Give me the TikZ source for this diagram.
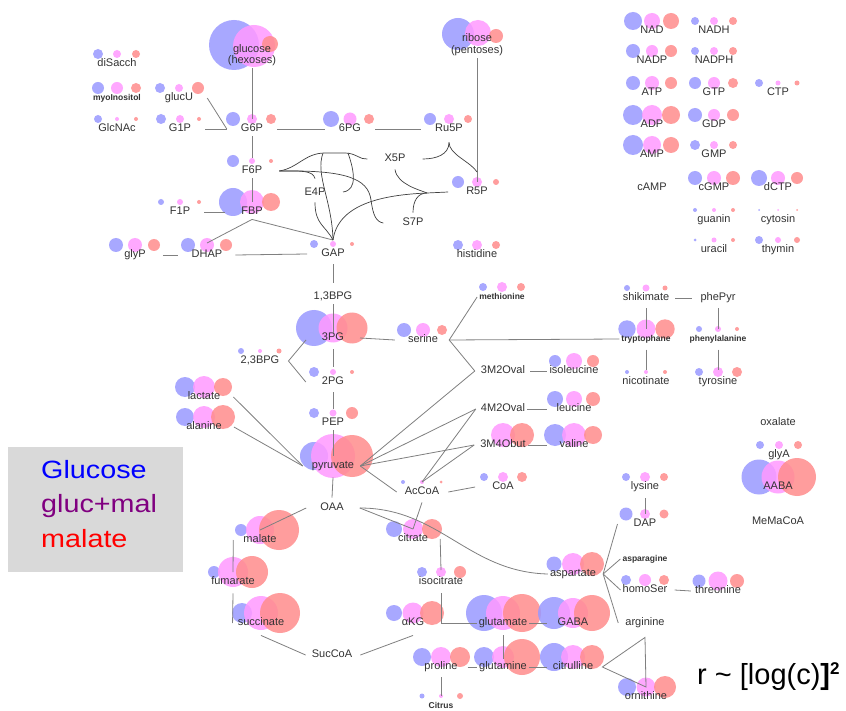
\documentclass[tikz,border=0pt]{standalone}
\usepackage{fontspec}
\setmainfont{Liberation Sans}
\newfontfamily\legfont[FakeStretch=1.15]{Liberation Sans}
\usetikzlibrary{calc}
\pgfdeclarelayer{bg}
\pgfsetlayers{bg,main}
\definecolor{cb}{HTML}{9999FF}
\definecolor{cp}{HTML}{FF99FF}
\definecolor{cr}{HTML}{FF8C8C}
\definecolor{lc}{HTML}{808080}
\definecolor{tc}{HTML}{333333}
\definecolor{legendgray}{HTML}{D9D9D9}
\definecolor{legpurple}{HTML}{800080}
\tikzset{
 lab/.style={text=tc, font=\fontsize{11}{13}\selectfont, inner xsep=2pt, inner ysep=2pt, text height=8pt, text depth=2.5pt},
 sm/.style={font=\bfseries\fontsize{8.5}{10}\selectfont, text height=7pt, text depth=2pt},
 ln/.style={draw=lc, line width=0.8pt},
 tg/.style={draw=black!75, line width=0.7pt},
 cbf/.style={fill=cb, opacity=.85},
 cpf/.style={fill=cp, opacity=.85},
 crf/.style={fill=cr, opacity=.85},
 legtext/.style={anchor=base west, inner sep=0pt, font=\legfont\fontsize{25}{28}\selectfont},
}
\newcommand\met[8][]{%
 \begin{pgfonlayer}{bg}%
 \ifdim#6pt>0pt \fill[cbf] (#3-19,#4-10) circle[radius=#6pt];\fi
 \ifdim#7pt>0pt \fill[cpf] (#3,#4-10) circle[radius=#7pt];\fi
 \ifdim#8pt>0pt \fill[crf] (#3+19,#4-10) circle[radius=#8pt];\fi
 \end{pgfonlayer}%
 \coordinate (#2c) at (#3,#4-10);
 \node[lab,#1] (#2) at (#3,#4) {#5};}
\begin{document}
\begin{tikzpicture}[x=1pt,y=-1pt]
\useasboundingbox (0,0) rectangle (846,711);
\begin{pgfonlayer}{bg}
\fill[white] (0,0) rectangle (846,711);
\fill[cbf] (234,45) circle[radius=25pt];
\fill[cpf] (254,46) circle[radius=21pt];
\fill[crf] (270,44) circle[radius=8pt];
\fill[cbf] (458,34) circle[radius=16pt];
\fill[cpf] (478,33) circle[radius=13pt];
\fill[crf] (496,36) circle[radius=7pt];
\end{pgfonlayer}
\node[lab] (glucose) at (252,50) {glucose};
\node[lab] (hexoses) at (252,61) {(hexoses)};
\node[lab] (ribose) at (477,39) {ribose};
\node[lab] (pentoses) at (477,51) {(pentoses)};
% ---- metabolites
\met{diSacch}{117}{64}{diSacch}{5}{4}{4}
\met[sm]{myoIno}{117}{98}{myoInositol}{6}{6}{5}
\met{GlcNAc}{117}{129}{GlcNAc}{4}{2}{2}
\met{glucU}{179}{98}{glucU}{5}{4}{6}
\met{G1P}{180}{129}{G1P}{5}{4}{2}
\met{G6P}{252}{129}{G6P}{7}{5}{5}
\met{PGsix}{350}{129}{6PG}{8}{6.5}{5}
\met{Ru5P}{449}{129}{Ru5P}{6}{5}{4}
\met{X5P}{395}{159}{X5P}{0}{0}{0}
\met{F6P}{252}{171}{F6P}{6}{3}{2}
\met{E4P}{315}{193}{E4P}{0}{0}{0}
\met{S7P}{413}{223}{S7P}{0}{0}{0}
\met{R5P}{477}{192}{R5P}{6}{5}{3}
\met{histidine}{477}{255}{histidine}{5}{5}{4}
\met{GAP}{333}{254}{GAP}{4}{3}{2}
\met{BPGot}{333}{297}{1,3BPG}{0}{0}{0}
\met{F1P}{180}{212}{F1P}{3}{3}{2}
\met{FBP}{252}{212}{FBP}{14}{12}{9}
\met{glyP}{135}{255}{glyP}{7}{7}{6}
\met{DHAP}{207}{255}{DHAP}{7}{7}{6}
\met{PGthree}{333}{338}{3PG}{18}{14.5}{15.5}
\met{BPGtt}{260}{361}{2,3BPG}{3}{2}{2.5}
\met{PGtwo}{333}{382}{2PG}{5}{3}{2}
\met{PEP}{333}{423}{PEP}{5}{3.5}{6}
\met{lactate}{204}{397}{lactate}{10}{11}{9}
\met{alanine}{204}{427}{alanine}{9}{11}{12}
\met{pyruvate}{333}{466}{pyruvate}{14}{22}{21}
\met{serine}{423}{340}{serine}{7}{7}{5}
\met[sm]{methionine}{502}{297}{methionine}{4}{5}{4}
\met{MOvalA}{503}{371}{3M2Oval}{0}{0}{0}
\met{isoleucine}{574}{371}{isoleucine}{6}{8}{6}
\met{MOvalB}{503}{409}{4M2Oval}{0}{0}{0}
\met{leucine}{574}{409}{leucine}{8}{8}{7}
\met{MObut}{503}{445}{3M4Obut}{0}{12}{12}
\met{valine}{574}{445}{valine}{11}{12}{9}
\met{shikimate}{646}{298}{shikimate}{3}{3.5}{2.5}
\met{phePyr}{718}{298}{phePyr}{0}{0}{0}
\met[sm]{tryptophane}{646}{339}{tryptophane}{8.7}{9.5}{9.7}
\met[sm]{phenylalanine}{718}{339}{phenylalanine}{3}{3}{2}
\met{nicotinate}{646}{382}{nicotinate}{2}{2}{2}
\met{tyrosine}{718}{382}{tyrosine}{4}{5}{5}
\met{AcCoA}{422}{492}{AcCoA}{2}{2}{1.5}
\met{CoA}{503}{487}{CoA}{4}{5}{5}
\met{OAA}{332}{508}{OAA}{0}{0}{0}
\met{malate}{260}{540}{malate}{6}{14}{20}
\met{fumarate}{233}{582}{fumarate}{6}{15}{16}
\met{succinate}{261}{623}{succinate}{10}{17}{20}
\met{SucCoA}{332}{655}{SucCoA}{0}{0}{0}
\met{citrate}{413}{539}{citrate}{8}{10}{10}
\met{isocitrate}{441}{582}{isocitrate}{5}{5}{6}
\met{aKG}{413}{623}{αKG}{8}{10.5}{12}
\met{glutamate}{503}{623}{glutamate}{18}{17}{19}
\met{GABA}{573}{623}{GABA}{16}{15}{18}
\met{proline}{441}{667}{proline}{9}{10}{10}
\met{glutamine}{503}{667}{glutamine}{10}{11}{18}
\met{citrulline}{573}{667}{citrulline}{14}{12}{12}
\met[sm]{bottom}{441}{706}{Citrus}{2.5}{2}{3}
\met{aspartate}{573}{574}{aspartate}{7.5}{11}{12}
\met{lysine}{645}{487}{lysine}{4}{5}{4}
\met{DAP}{645}{524}{DAP}{6.5}{5}{4.5}
\met[sm]{asparagine}{645}{559}{asparagine}{0}{0}{0}
\met{homoSer}{645}{590}{homoSer}{5}{6}{5}
\met{threonine}{718}{591}{threonine}{6.5}{9.5}{7}
\met{arginine}{645}{623}{arginine}{0}{0}{0}
\met{ornithine}{646}{697}{ornithine}{9}{9.5}{11}
\met{oxalate}{778}{423}{oxalate}{0}{0}{0}
\met{glyA}{779}{455}{glyA}{4}{4}{4}
\met{AABA}{778}{487}{AABA}{17.5}{16.5}{19}
\met{MeMaCoA}{778}{522}{MeMaCoA}{0}{0}{0}
% nucleotides
\met{NAD}{652}{31}{NAD}{9}{8}{8}
\met{NADH}{714}{31}{NADH}{4}{4}{4}
\met{NADP}{652}{61}{NADP}{7}{6}{6}
\met{NADPH}{714}{61}{NADPH}{4}{4}{4}
\met{ATP}{652}{93}{ATP}{7}{7}{6}
\met{GTP}{714}{93}{GTP}{6}{6}{5}
\met{CTP}{778}{93}{CTP}{4}{2.5}{2.5}
\met{ADP}{652}{125}{ADP}{10}{10}{9}
\met{GDP}{714}{125}{GDP}{7}{6}{6}
\met{AMP}{652}{155}{AMP}{10}{9}{8}
\met{GMP}{714}{155}{GMP}{5}{4}{4}
\met{cAMP}{652}{188}{cAMP}{0}{0}{0}
\met{cGMP}{714}{188}{cGMP}{7}{7}{7}
\met{dCTP}{778}{188}{dCTP}{8}{7}{6}
\met{guanin}{714}{220}{guanin}{2}{2}{2}
\met{cytosin}{778}{220}{cytosin}{1}{1}{1}
\met{uracil}{714}{250}{uracil}{1.5}{2.5}{2}
\met{thymin}{778}{250}{thymin}{4}{3}{3}
% ---- connectors
\draw[ln] (hexoses.south) -- (G6Pc);
\draw[ln] ([xshift=12]G1P.east) -- ([xshift=-12]G6P.west);
\draw[ln] ([xshift=12]glucU.east) -- ([xshift=-12]G6P.west);
\draw[ln] ([xshift=12]G6P.east) -- ([xshift=-12]PGsix.west);
\draw[ln] ([xshift=12]PGsix.east) -- ([xshift=-12]Ru5P.west);
\draw[ln] (pentoses.south) -- (R5Pc);
\draw[tg] ([yshift=-6]Ru5P.south) .. controls +(0,12) and +(14,0) .. ([xshift=15]X5P.east);
\draw[tg] ([yshift=-6]Ru5P.south) .. controls +(0,12) and +(-6,-10) .. ([yshift=10]R5Pc);
\draw[ln] (G6P.south) -- ([yshift=3]F6Pc);
\draw[ln] (F6P.south) -- (FBPc);
\draw[ln] ([xshift=12]F1P.east) -- ([xshift=-14]FBP.west);
\draw[ln] (FBP.south) -- ([yshift=2]DHAPc);
\draw[ln] (FBP.south) -- ([yshift=4]GAPc);
\draw[ln] ([xshift=15]glyP.east) -- ([xshift=-12]DHAP.west);
\draw[ln] ([xshift=11]DHAP.east) -- ([xshift=-12]GAP.west);
\draw[ln] ([yshift=-3]GAP.south) -- ([yshift=7]BPGot.north);
\draw[ln] (BPGot.south) -- ([yshift=-5]PGthreec);
\draw[ln] ([yshift=-4]PGthree.south) -- ([yshift=5]PGtwoc);
\coordinate (v23) at ([xshift=7]BPGtt.east);
\draw[ln] ([xshift=-27,yshift=-12]PGthreec) -- (v23) -- ([xshift=-14]PGtwo.west);
\draw[ln] ([yshift=-3]PGtwo.south) -- ([yshift=4]PEPc);
\draw[ln] (PEP.south) -- (pyruvatec);
\draw[ln] ([yshift=-4]pyruvate.south) -- ([yshift=3]OAA.north);
\draw[ln] ([xshift=11]lactate.east) -- ([xshift=-7]pyruvate.west);
\draw[ln] ([xshift=10]alanine.east) -- ([xshift=-7]pyruvate.west);
\draw[ln] ([xshift=27]PGthree.center) -- ([xshift=-11]serine.west);
\coordinate (serJ) at ([xshift=9]serine.east);
\draw[ln] (methionine.west) -- (serJ) -- ([xshift=-4]MOvalA.west);
\draw[ln] (serJ) -- (tryptophane.west);
\coordinate (pyrJ) at ([xshift=4]pyruvate.east);
\draw[ln] (pyrJ) -- ([xshift=-4]MOvalA.west);
\draw[ln] (pyrJ) -- ([xshift=-3]MOvalB.west);
\draw[ln] (pyrJ) -- ([xshift=-4]MObut.west);
\draw[ln] (AcCoAc) -- ([xshift=-3]MOvalB.west);
\draw[ln] (AcCoAc) -- ([xshift=-4]MObut.west);
\draw[ln] (pyrJ) -- ([xshift=-6]AcCoA.west);
\draw[ln] ([xshift=7]AcCoA.east) -- ([xshift=-15]CoA.west);
\draw[ln] ([xshift=3]MOvalA.east) -- (isoleucine.west);
\draw[ln] (MOvalB.east) -- ([xshift=-7]leucine.west);
\draw[ln] (MObut.east) -- ([xshift=-10]valine.west);
\draw[ln] ([xshift=4]shikimate.east) -- ([xshift=-6]phePyr.west);
\draw[ln] ([yshift=-3]shikimate.south) -- (tryptophanec);
\draw[ln] ([yshift=-4]tryptophane.south) -- ([yshift=2]nicotinatec);
\draw[ln] ([yshift=-3]phePyr.south) -- (phenylalaninec);
\draw[ln] ([yshift=-4]phenylalanine.south) -- ([yshift=2]tyrosinec);
\draw[ln] ([xshift=-12]OAA.west) -- (malatec);
\draw[ln] ([xshift=14]OAA.east) -- (citratec);
\draw[ln] ([yshift=-3]AcCoA.south) -- (citratec);
\draw[ln] ([xshift=14]OAA.east) .. controls +(80,0) and +(-80,-2) .. (aspartate.west);
\draw[ln] ([xshift=-8]malate.west) -- (fumaratec);
\draw[ln] ([yshift=-4]fumarate.south) -- ([xshift=-3]succinate.west);
\draw[ln] ([yshift=-5]succinate.south) -- ([xshift=-4]SucCoA.west);
\draw[ln] ([xshift=6]SucCoA.east) -- ([yshift=-5]aKG.south);
\draw[ln] ([xshift=10]citrate.east) -- ([yshift=2]isocitratec);
\draw[ln] ([yshift=-4]isocitrate.south) |- (glutamate.west);
\draw[ln] (glutamate.east) -- ([xshift=-9]GABA.west);
\draw[ln] ([yshift=-5]glutamate.south) -- ([yshift=-2]glutaminec);
\draw[ln] ([xshift=8]proline.east) -- (glutamine.west);
\draw[ln] (glutamine.east) -- ([xshift=-4]citrulline.west);
\draw[ln] ([yshift=-3]proline.south) -- (bottomc);
\coordinate (citE) at ([xshift=7]citrulline.east);
\coordinate (argV) at ([yshift=-7]arginine.south);
\draw[ln] (citE) -- (argV) -- (ornithinec) -- cycle;
\coordinate (aspE) at ([xshift=5]aspartate.east);
\draw[ln] (aspE) -- ([xshift=-14]DAP.west);
\draw[ln] (aspE) -- (asparagine.west);
\draw[ln] (aspE) -- (homoSer.west);
\draw[ln] (aspE) -- ([xshift=-5]arginine.west);
\draw[ln] ([yshift=-4]lysine.south) -- (DAPc);
\draw[ln] ([xshift=5]homoSer.east) -- ([xshift=-2]threonine.west);
% ---- pentose phosphate tangle
\coordinate (FJ) at ([xshift=15]F6P.east);
\coordinate (GAPt) at ([yshift=4]GAPc);
\coordinate (J1) at (427,193);
\draw[tg] (FJ) .. controls (298,168) and (305,153) .. (325,153) -- (345,153) .. controls (356,153) and (360,160) .. ([xshift=-15]X5P.west);
\draw[tg] (FJ) .. controls (300,171) and (313,170) .. ([yshift=7]E4P.north);
\draw[tg] (FJ) .. controls (345,170) and (368,178) .. (371,200) .. controls (373,215) and (376,222) .. ([xshift=-17]S7P.west);
\draw[tg] (323,153) .. controls (315,175) and (332,200) .. (GAPt);
\draw[tg] (348,153) .. controls (354,170) and (358,190) .. (343,192);
\draw[tg] ([yshift=-2]E4P.south) .. controls +(0,22) and +(-8,-15) .. (GAPt);
\draw[tg] ([xshift=-16]R5P.west) -- (J1) .. controls (380,195) and (338,205) .. (GAPt);
\draw[tg] ([yshift=-3]X5P.south) .. controls +(2,15) and (420,190) .. (J1);
\draw[tg] ([yshift=3]S7P.north) .. controls +(0,-12) and (418,193) .. (J1);
% ---- legend
\node[fill=legendgray, minimum width=175pt, minimum height=125pt, inner sep=0pt] (legend) at (95.5,509.5) {};
\node[legtext, text=blue] (lgA) at (41,478) {Glucose};
\node[legtext, text=legpurple] (lgB) at (41,512) {gluc+mal};
\node[legtext, text=red] (lgC) at (41,547) {malate};
% ---- formula
\node[anchor=base west, inner sep=0pt, font=\fontsize{29}{32}\selectfont] (formula) at (697,684) {r \textasciitilde{} [log(c)\textbf{]}\raisebox{10pt}{\fontsize{17}{18}\selectfont\bfseries 2}};
\end{tikzpicture}
\end{document}
